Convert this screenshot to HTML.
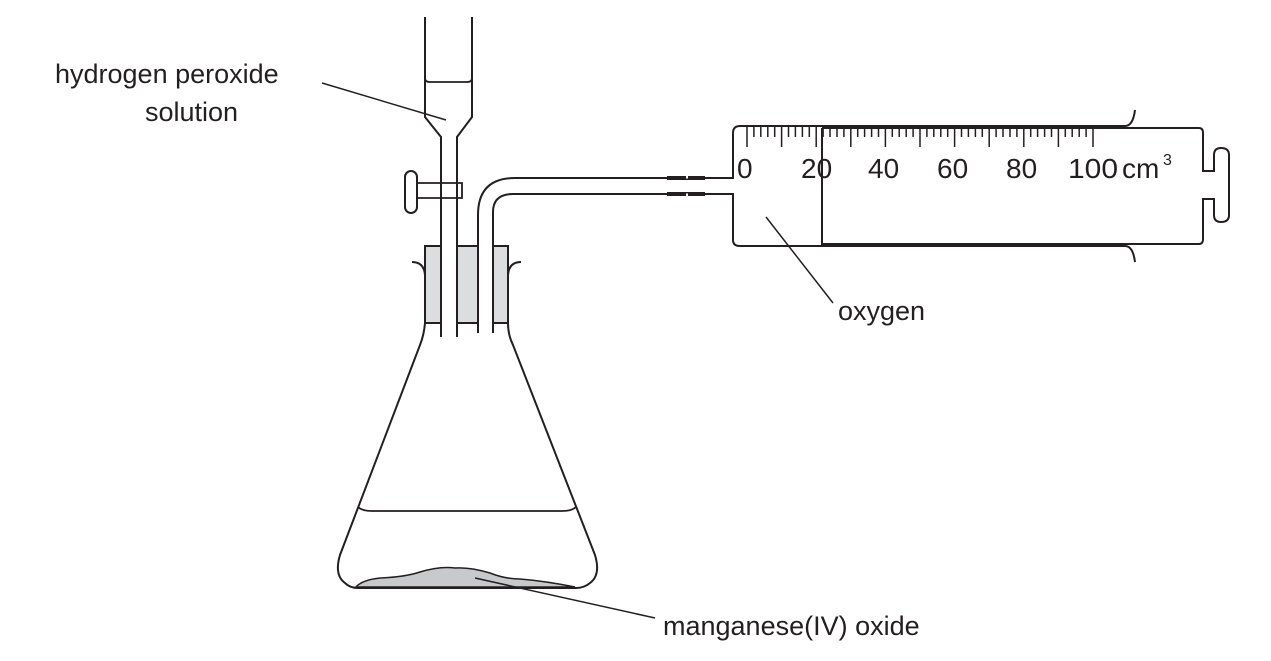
<!DOCTYPE html>
<html><head><style>html,body{margin:0;padding:0;background:#fff;}svg{display:block}
text{font-family:"Liberation Sans",sans-serif;fill:#231f20}</style></head>
<body>
<svg width="1271" height="661" viewBox="0 0 1271 661" xmlns="http://www.w3.org/2000/svg">
<g fill="none" stroke="#231f20" stroke-width="2">
<rect x="425" y="246" width="83" height="77" fill="#dcdddf" stroke="#231f20"/>
<rect x="441" y="240" width="16" height="100" fill="#fff" stroke="none"/>
<rect x="479" y="240" width="14" height="100" fill="#fff" stroke="none"/>
<path d="M425,323 Q424,335 420,345 L340,555 Q334,575 345,583 Q350,588 358,588 L576,588 Q584,588 590,583 Q601,575 595,555 L513,345 Q508,335 508,323"/>
<path d="M425,323 L425,246 M508,323 L508,246"/>
<path d="M412,262 Q424,262 425,275 M521,262 Q509,262 508,275"/>
<path d="M358,507 Q362,511 372,511 L562,511 Q572,511 576,507" stroke-width="1.8"/>
<path d="M356,587 Q362,580 380,578 Q405,577 420,572 Q440,566 455,568 Q470,567 490,573 Q505,579 520,579 Q545,581 575,587 Z" fill="#c8c9cb" stroke="#231f20" stroke-width="1.5"/>
<path d="M425,17 L425,117 L441,137 L441,337 M472,17 L472,117 L457,137 L457,337"/>
<path d="M425,78 Q425,82 430,82 L467,82 Q472,82 472,78" stroke-width="1.8"/>
<path d="M417,183 L462,183 L462,198 L417,198" stroke-width="1.8"/>
<rect x="405" y="171" width="12" height="42" rx="6" fill="#fff"/>
<path d="M478,333 L478,215 Q478,178 515,178 L733,178 L733,133 Q733,126 740,126 L1125,126 Q1133,126 1135,110"/>
<path d="M493,333 L493,212 Q493,194 513,194 L733,194 L733,240 Q733,246 740,246 L1125,246 Q1133,246 1135,262"/>
<path d="M667,178 L705,178 M667,194 L705,194" stroke-width="4"/>
<path d="M686,177 L688,177 M686,195 L688,195" stroke="#fff" stroke-width="3"/>
<path d="M822,128 L822,244 L1199,244 Q1203,244 1203,239 L1203,199 L1214,199 L1214,215 Q1214,222 1221,222 Q1229,222 1229,215 L1229,155 Q1229,148 1221,148 Q1214,148 1214,155 L1214,171 L1203,171 L1203,133 Q1203,128 1199,128 L822,128"/>
<path d="M322,83 L446,120 M766,217 L833,303 M475,578 L655,618" stroke-width="1.5"/>
</g>
<path stroke="#231f20" stroke-width="1.5" fill="none" d="M747,127v20 M753.9,127v10 M760.8,127v10 M767.8,127v10 M774.7,127v10 M781.6,127v20 M788.5,127v10 M795.4,127v10 M802.4,127v10 M809.3,127v10 M816.2,127v20 M823.1,127v10 M830,127v10 M837,127v10 M843.9,127v10 M850.8,127v20 M857.7,127v10 M864.6,127v10 M871.6,127v10 M878.5,127v10 M885.4,127v20 M892.3,127v10 M899.2,127v10 M906.2,127v10 M913.1,127v10 M920,127v20 M926.9,127v10 M933.8,127v10 M940.8,127v10 M947.7,127v10 M954.6,127v20 M961.5,127v10 M968.4,127v10 M975.4,127v10 M982.3,127v10 M989.2,127v20 M996.1,127v10 M1003,127v10 M1010,127v10 M1016.9,127v10 M1023.8,127v20 M1030.7,127v10 M1037.6,127v10 M1044.6,127v10 M1051.5,127v10 M1058.4,127v20 M1065.3,127v10 M1072.2,127v10 M1079.2,127v10 M1086.1,127v10 M1093,127v20"/>
<g font-size="27">
<text x="55" y="83">hydrogen peroxide</text>
<text x="145" y="121">solution</text>
<text x="838" y="320">oxygen</text>
<text x="663" y="635">manganese(IV) oxide</text>
</g>
<g font-size="28">
<text x="737" y="178">0</text>
<text x="801" y="178">20</text>
<text x="868" y="178">40</text>
<text x="937" y="178">60</text>
<text x="1006" y="178">80</text>
<text x="1068" y="178" textLength="50" lengthAdjust="spacingAndGlyphs">100</text>
<text x="1122" y="178">cm</text>
<text x="1163" y="165" font-size="16">3</text>
</g>
</svg>
</body></html>
